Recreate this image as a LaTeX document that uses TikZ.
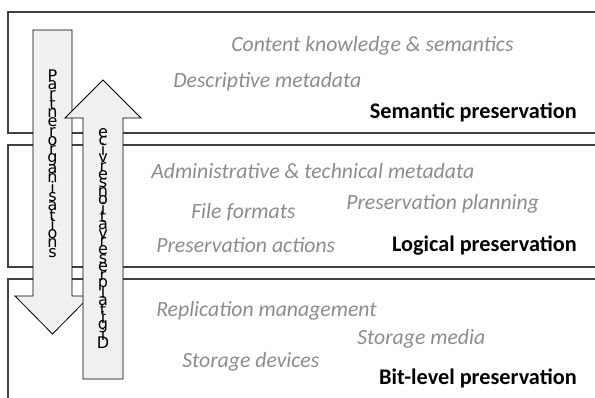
\documentclass[tikz,border=0pt]{standalone}
\usepackage{fontspec}
\setmainfont{Carlito}
\newfontfamily\stackfont{DejaVu Sans}

\begin{document}
\begin{tikzpicture}[x=0.75pt,y=0.75pt,yscale=-1,xscale=1,
  layer/.style={draw=black!75, line width=0.8pt},
  bigarrow/.style={draw=black, fill=black!6, line width=0.6pt},
  topic/.style={anchor=west, font=\itshape\fontsize{16.3}{18}\selectfont, text=black!45, inner sep=0.75pt},
  level/.style={anchor=east, font=\bfseries\fontsize{16.7}{19}\selectfont, inner sep=0.75pt},
  letter/.style={font=\stackfont\fontsize{12}{12}\selectfont, inner sep=0pt}]
\path[use as bounding box] (0,0) rectangle (595,397);

%Layers
\draw[layer] (600,12) -- (8,12) -- (8,133) -- (600,133) ;
\draw[layer] (600,145) -- (8,145) -- (8,267) -- (600,267) ;
\draw[layer] (600,279) -- (8,279) -- (8,400) ;

%Shape: Down Arrow
\draw[bigarrow] (33,30) -- (72,30) -- (72,296) -- (90,296) -- (52.5,334) -- (15,296) -- (33,296) -- cycle ;
%Shape: Up Arrow
\draw[bigarrow] (83,379) -- (83,118) -- (65,118) -- (103,80) -- (141,118) -- (123,118) -- (123,379) -- cycle ;

% Stacked letters
\foreach \ch [count=\i] in {P,a,r,t,n,e,r,o,r,g,a,n,i,s,a,t,i,o,n,s}
  \node[letter] (down\i) at (52.5,76+9.3*\i-9.3) {\ch};
\foreach \ch [count=\i] in {e,c,i,v,r,e,s,n,o,i,t,a,v,r,e,s,e,r,p,l,a,t,i,g,i,D}
  \node[letter] (up\i) at (103,133+8.4*\i-8.4) {\ch};

% Text Node
\node[topic] (content) at (230,46) {Content knowledge \& semantics};
\node[topic] (descr) at (172,82) {Descriptive metadata};
\node[level] (semantic) at (578,112) {Semantic preservation};
% Text Node
\node[topic] (admin) at (150,171) {Administrative \& technical metadata};
\node[topic] (formats) at (190,212) {File formats};
\node[topic] (planning) at (345,204) {Preservation planning};
\node[topic] (actions) at (155,245) {Preservation actions};
\node[level] (logical) at (578,246) {Logical preservation};
% Text Node
\node[topic] (replication) at (155,311) {Replication management};
\node[topic] (media) at (356,339) {Storage media};
\node[topic] (devices) at (181,362) {Storage devices};
\node[level] (bitlevel) at (578,378) {Bit-level preservation};

\end{tikzpicture}
\end{document}
